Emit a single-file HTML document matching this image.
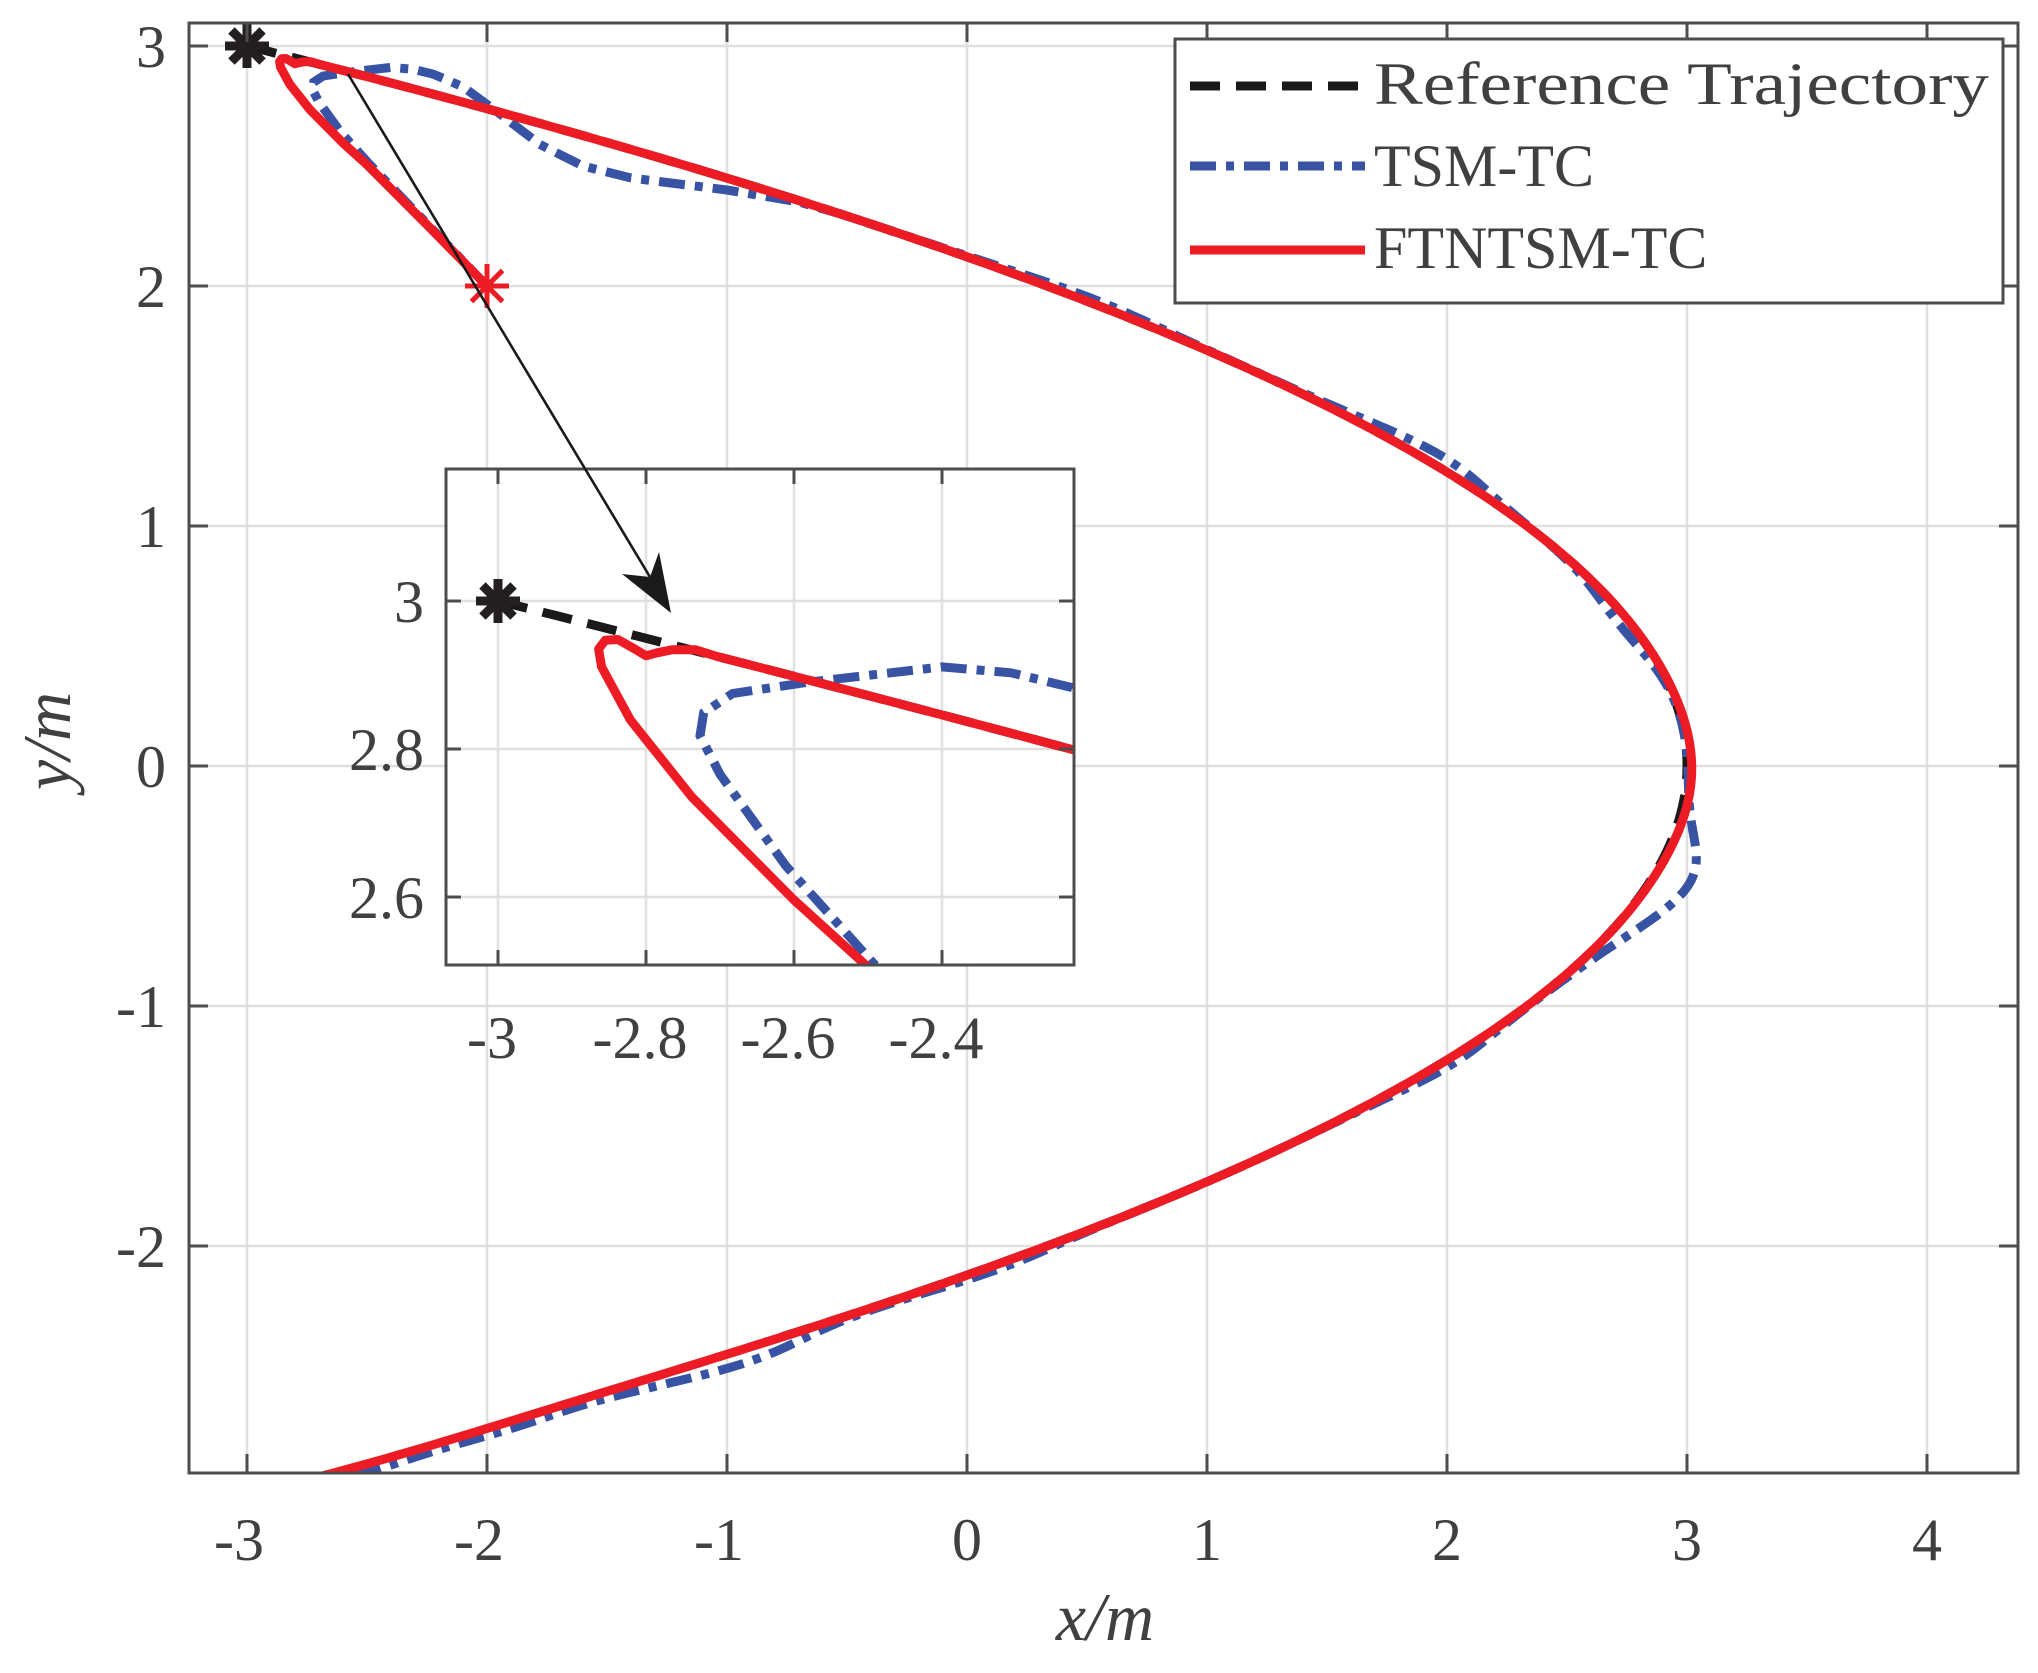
<!DOCTYPE html>
<html><head><meta charset="utf-8"><style>
html,body{margin:0;padding:0;background:#fff;overflow:hidden;width:2038px;height:1673px;}
svg{display:block;}
text{font-family:"Liberation Serif",serif;fill:#404040;}
</style></head><body>
<svg id="s" width="2038" height="1673" viewBox="0 0 2038 1673" xmlns="http://www.w3.org/2000/svg">
<defs>
<clipPath id="cm"><rect x="189" y="23" width="1829" height="1450"/></clipPath>
<clipPath id="ci"><rect x="446" y="469" width="628" height="496"/></clipPath>
</defs>
<rect width="2038" height="1673" fill="#fff"/>
<g id="grid" stroke="#e0e0e0" stroke-width="2.5"></g>
<g clip-path="url(#cm)" id="main"></g>
<g id="axes"></g>
<rect x="446" y="469" width="628" height="496" fill="#fff"/>
<g id="igrid" stroke="#e0e0e0" stroke-width="2.5" clip-path="url(#ci)"></g>
<g clip-path="url(#ci)" id="inset"></g>
<rect x="446" y="469" width="628" height="496" fill="none" stroke="#4d4d4d" stroke-width="3"/>
<g id="iaxes"></g>
<line x1="348" y1="74" x2="650" y2="577" stroke="#1a1a1a" stroke-width="2.6"/>
<polygon points="671,613 622,574 650,577 659,552" fill="#1a1a1a"/>
<g id="legend">
<rect x="1175" y="39" width="828" height="264" fill="#fff" stroke="#4d4d4d" stroke-width="3"/>
<line x1="1190" y1="86" x2="1365" y2="86" stroke="#1a1a1a" stroke-width="9" stroke-dasharray="30,16"/>
<line x1="1190" y1="166" x2="1365" y2="166" stroke="#3853a4" stroke-width="9" stroke-dasharray="26,10,8,10"/>
<line x1="1190" y1="250" x2="1365" y2="250" stroke="#ed1c24" stroke-width="9"/>
<text x="1374" y="104" font-size="60" textLength="615" lengthAdjust="spacingAndGlyphs">Reference Trajectory</text>
<text x="1374" y="186" font-size="60">TSM-TC</text>
<text x="1374" y="268" font-size="60">FTNTSM-TC</text>
</g>
<text x="1105" y="1640" font-size="68" font-style="italic" text-anchor="middle">x/m</text>
<text transform="translate(70,741) rotate(-90)" font-size="68" font-style="italic" text-anchor="middle">y/m</text>
</svg>
<script>
var NS="http://www.w3.org/2000/svg";
function el(p,t,a,txt){var e=document.createElementNS(NS,t);for(var k in a)e.setAttribute(k,a[k]);if(txt!==undefined)e.textContent=txt;document.getElementById(p).appendChild(e);return e;}
function MX(x){return 967+240*x;} function MY(y){return 766-240*y;}
function IX(x){return 498+740*(x+3);} function IY(y){return 601-740*(y-3);}
for(var i=-3;i<=4;i++){el("grid","line",{x1:MX(i),y1:23,x2:MX(i),y2:1473});}
for(var j=-2;j<=3;j++){el("grid","line",{x1:189,y1:MY(j),x2:2018,y2:MY(j)});}
el("axes","rect",{x:189,y:23,width:1829,height:1450,fill:"none",stroke:"#4d4d4d","stroke-width":3});
for(var i=-3;i<=4;i++){el("axes","line",{x1:MX(i),y1:1473,x2:MX(i),y2:1454,stroke:"#4d4d4d","stroke-width":3});el("axes","line",{x1:MX(i),y1:23,x2:MX(i),y2:42,stroke:"#4d4d4d","stroke-width":3});
 el("axes","text",{x:MX(i)+(i<0?-8:0),y:1560,"font-size":60,"text-anchor":"middle"},String(i));}
for(var j=-2;j<=3;j++){el("axes","line",{x1:189,y1:MY(j),x2:208,y2:MY(j),stroke:"#4d4d4d","stroke-width":3});el("axes","line",{x1:2018,y1:MY(j),x2:1999,y2:MY(j),stroke:"#4d4d4d","stroke-width":3});
 el("axes","text",{x:166,y:MY(j)+21,"font-size":60,"text-anchor":"end"},String(j));}
var ixt=[-3,-2.8,-2.6,-2.4],iyt=[3,2.8,2.6];
ixt.forEach(function(v){el("igrid","line",{x1:IX(v),y1:469,x2:IX(v),y2:965});el("iaxes","line",{x1:IX(v),y1:965,x2:IX(v),y2:950,stroke:"#4d4d4d","stroke-width":3});el("iaxes","line",{x1:IX(v),y1:469,x2:IX(v),y2:484,stroke:"#4d4d4d","stroke-width":3});
 el("iaxes","text",{x:IX(v)-6,y:1058,"font-size":60,"text-anchor":"middle"},String(v));});
iyt.forEach(function(v){el("igrid","line",{x1:446,y1:IY(v),x2:1074,y2:IY(v)});el("iaxes","line",{x1:446,y1:IY(v),x2:461,y2:IY(v),stroke:"#4d4d4d","stroke-width":3});el("iaxes","line",{x1:1074,y1:IY(v),x2:1059,y2:IY(v),stroke:"#4d4d4d","stroke-width":3});
 el("iaxes","text",{x:424,y:IY(v)+21,"font-size":60,"text-anchor":"end"},v.toFixed(v==3?0:1));});
function rx(y){return 3-2*y*y/3;}
function g(y,c,w,a){return a*Math.exp(-Math.pow((y-c)/w,2));}
function db(y){return g(y,1.3,0.18,0.09)+g(y,0.6,0.2,-0.05)+g(y,-0.5,0.25,0.17)+g(y,-1.25,0.15,0.05)+g(y,-2.5,0.15,0.2)+g(y,-2.1,0.12,0.06)+g(y,-2.75,0.1,0.1)+g(y,1.95,0.15,0.05)+g(y,-3,0.2,0.3);}
var ref=[],red=[],blue=[];
for(var y=3;y>=-2.4;y-=0.01){ref.push([rx(y),y]);}
red=[[-2,2],[-2.25,2.255],[-2.503,2.508],[-2.6,2.596],[-2.738,2.735],[-2.821,2.839],[-2.86,2.911],[-2.864,2.935],[-2.855,2.947],[-2.838,2.948],[-2.815,2.935],[-2.8,2.926],[-2.785,2.93],[-2.765,2.934],[-2.733,2.934]];
for(var y=2.925;y>=-3.0;y-=0.01){red.push([rx(y)+g(y,-0.05,0.35,0.02)+g(y,-3,0.3,0.15),y]);}
blue=[[-2,2],[-2.25,2.26],[-2.495,2.513],[-2.611,2.642],[-2.7,2.766],[-2.727,2.818],[-2.722,2.849],[-2.683,2.875],[-2.583,2.89],[-2.4,2.911],[-2.307,2.903],[-2.224,2.883],[-2.1,2.83],[-1.95,2.72],[-1.78,2.59],[-1.6,2.5],[-1.4,2.45],[-1.0,2.40],[-0.7,2.35]];
for(var y=2.3;y>=-3.0;y-=0.01){blue.push([rx(y)+db(y),y]);}
function path(pts,fx,fy){return pts.map(function(p,i){return (i?"L":"M")+fx(p[0]).toFixed(1)+" "+fy(p[1]).toFixed(1);}).join("");}
function draw(id,fx,fy,w){
 el(id,"path",{d:path(ref,fx,fy),fill:"none",stroke:"#1a1a1a","stroke-width":w,"stroke-dasharray":"30,16"});
 el(id,"path",{d:path(blue,fx,fy),fill:"none",stroke:"#3853a4","stroke-width":w,"stroke-dasharray":"26,10,8,10"});
 el(id,"path",{d:path(red,fx,fy),fill:"none",stroke:"#ed1c24","stroke-width":w,"stroke-linejoin":"round"});
}
draw("main",MX,MY,9);draw("inset",IX,IY,9);
function star(id,cx,cy,r,c,w){for(var k=0;k<4;k++){var a=k*Math.PI/4;el(id,"line",{x1:cx-r*Math.cos(a),y1:cy-r*Math.sin(a),x2:cx+r*Math.cos(a),y2:cy+r*Math.sin(a),stroke:c,"stroke-width":w});}}
star("main",MX(-3),MY(3),22,"#231f20",9);
star("main",MX(-2),MY(2),22,"#ed1c24",5);
star("inset",IX(-3),IY(3),22,"#231f20",9);
</script>
</body></html>
